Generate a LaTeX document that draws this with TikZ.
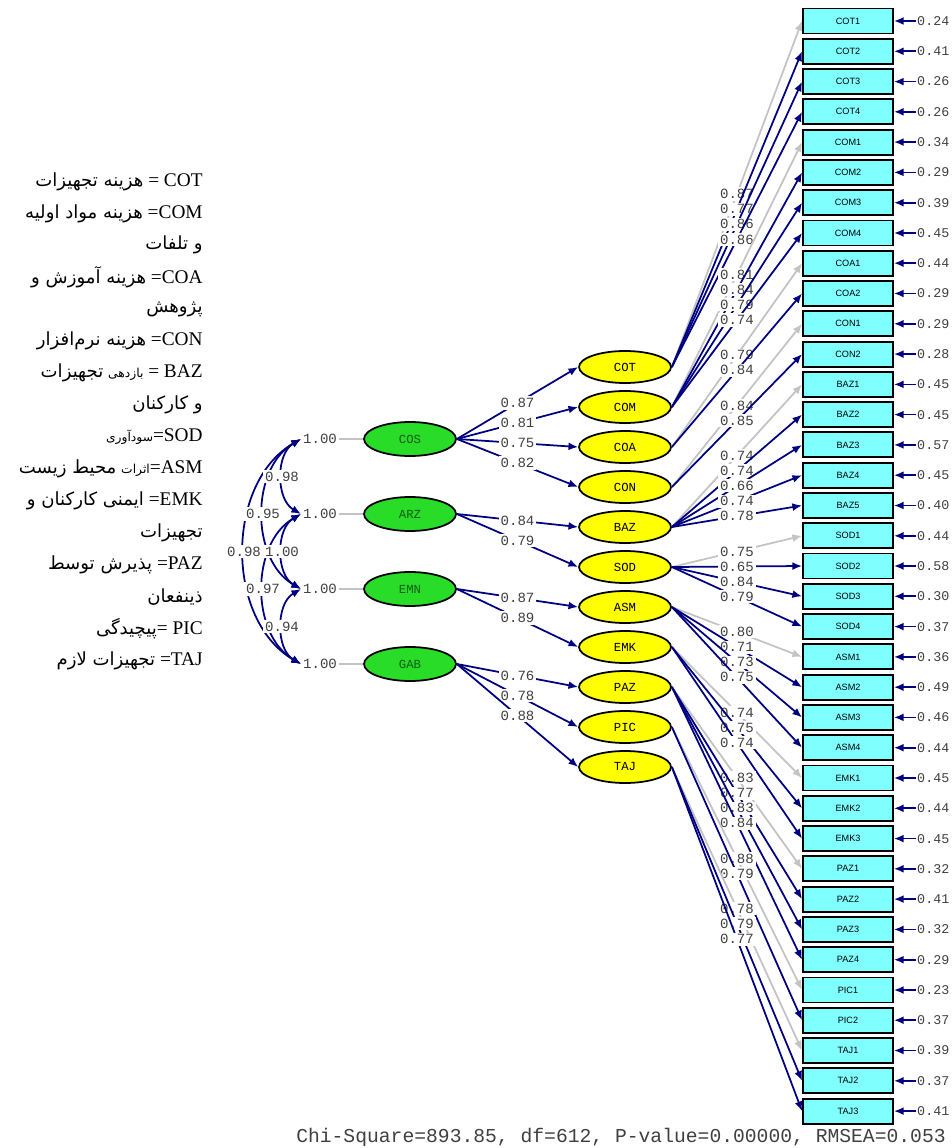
\documentclass[tikz,border=0pt]{standalone}
\usepackage{fontspec}
\setmainfont{Liberation Serif}
\newfontfamily\monofont{Liberation Mono}
\newfontfamily\boxfont{Liberation Sans}
\newfontfamily\persianfont[Script=Arabic]{DejaVu Sans}
\TeXXeTstate=1
\usetikzlibrary{shapes.geometric,arrows.meta}
\definecolor{lisnavy}{RGB}{0,0,128}
\definecolor{lisgray}{RGB}{195,195,195}
\definecolor{boxcyan}{RGB}{128,255,255}
\definecolor{latgreen}{RGB}{40,220,40}
\definecolor{latyellow}{RGB}{255,255,0}
\definecolor{gtext}{RGB}{20,90,20}
\newcommand{\smallfa}[1]{{\persianfont\fontsize{7}{8}\selectfont #1}}
\newcommand{\fatext}[1]{{\persianfont\fontsize{10.3}{12}\selectfont #1}}
\tikzset{
  obs/.style={draw, line width=1.1pt, fill=boxcyan, minimum width=1.8cm, minimum height=0.5cm, inner sep=0pt, font=\boxfont\fontsize{5.2}{6}\selectfont},
  fac/.style={ellipse, draw, line width=1pt, fill=latyellow, minimum width=1.84cm, minimum height=0.64cm, inner sep=0pt, font=\monofont\fontsize{7}{8}\selectfont},
  gfac/.style={fac, fill=latgreen, minimum height=0.68cm, text=gtext},
  val/.style={font=\monofont\fontsize{8}{9}\selectfont, inner sep=1pt, text=black!75},
  errval/.style={val, anchor=west, inner sep=0.5pt, font=\monofont\fontsize{7.6}{9}\selectfont},
  lbl/.style={val, fill=white},
  load/.style={lisnavy, line width=1pt, -{Latex[length=5.5pt,width=4.5pt]}},
  fixload/.style={load, lisgray},
  corr/.style={lisnavy, line width=1pt, {Latex[length=5.5pt,width=4.5pt]}-{Latex[length=5.5pt,width=4.5pt]}},
  varline/.style={lisgray, line width=1pt},
  legend/.style={anchor=east, inner sep=0pt, font=\fontsize{11}{13}\selectfont}
}
\begin{document}
\begin{tikzpicture}[x=0.02cm,y=-0.02cm]
  \useasboundingbox (0,0) rectangle (952,1148);

  \node[legend] (lCOT) at (203,182) {\beginR\beginL COT\endL{} = \fatext{هزینه تجهیزات}\endR};
  \node[legend] (lCOM) at (203,214) {\beginR\beginL COM\endL= \fatext{هزینه مواد اولیه}\endR};
  \node[legend] (lCOMb) at (203,245) {\beginR\fatext{و تلفات}\endR};
  \node[legend] (lCOA) at (203,277) {\beginR\beginL COA\endL= \fatext{هزینه آموزش و}\endR};
  \node[legend] (lCOAb) at (203,309) {\beginR\fatext{پژوهش}\endR};
  \node[legend] (lCON) at (203,341) {\beginR\beginL CON\endL= \fatext{هزینه نرم‌افزار}\endR};
  \node[legend] (lBAZ) at (203,373) {\beginR\beginL BAZ\endL{} = \smallfa{بازدهی} \fatext{تجهیزات}\endR};
  \node[legend] (lBAZb) at (203,405) {\beginR\fatext{و کارکنان}\endR};
  \node[legend] (lSOD) at (203,437) {\beginR\beginL SOD\endL=\smallfa{سودآوری}\endR};
  \node[legend] (lASM) at (203,469) {\beginR\beginL ASM\endL=\smallfa{اثرات} \fatext{محیط زیست}\endR};
  \node[legend] (lEMK) at (203,501) {\beginR\beginL EMK\endL= \fatext{ایمنی کارکنان و}\endR};
  \node[legend] (lEMKb) at (203,533) {\beginR\fatext{تجهیزات}\endR};
  \node[legend] (lPAZ) at (203,565) {\beginR\beginL PAZ\endL= \fatext{پذیرش توسط}\endR};
  \node[legend] (lPAZb) at (203,597) {\beginR\fatext{ذینفعان}\endR};
  \node[legend] (lPIC) at (203,629) {\beginR\beginL PIC\endL{} =\fatext{پیچیدگی}\endR};
  \node[legend] (lTAJ) at (203,661) {\beginR\beginL TAJ\endL= \fatext{تجهیزات لازم}\endR};

  \node[obs] (COT1) at (848,21.0) {COT1};
  \node[obs] (COT2) at (848,51.3) {COT2};
  \node[obs] (COT3) at (848,81.6) {COT3};
  \node[obs] (COT4) at (848,111.8) {COT4};
  \node[obs] (COM1) at (848,142.1) {COM1};
  \node[obs] (COM2) at (848,172.4) {COM2};
  \node[obs] (COM3) at (848,202.7) {COM3};
  \node[obs] (COM4) at (848,233.0) {COM4};
  \node[obs] (COA1) at (848,263.2) {COA1};
  \node[obs] (COA2) at (848,293.5) {COA2};
  \node[obs] (CON1) at (848,323.8) {CON1};
  \node[obs] (CON2) at (848,354.1) {CON2};
  \node[obs] (BAZ1) at (848,384.4) {BAZ1};
  \node[obs] (BAZ2) at (848,414.6) {BAZ2};
  \node[obs] (BAZ3) at (848,444.9) {BAZ3};
  \node[obs] (BAZ4) at (848,475.2) {BAZ4};
  \node[obs] (BAZ5) at (848,505.5) {BAZ5};
  \node[obs] (SOD1) at (848,535.8) {SOD1};
  \node[obs] (SOD2) at (848,566.0) {SOD2};
  \node[obs] (SOD3) at (848,596.3) {SOD3};
  \node[obs] (SOD4) at (848,626.6) {SOD4};
  \node[obs] (ASM1) at (848,656.9) {ASM1};
  \node[obs] (ASM2) at (848,687.2) {ASM2};
  \node[obs] (ASM3) at (848,717.4) {ASM3};
  \node[obs] (ASM4) at (848,747.7) {ASM4};
  \node[obs] (EMK1) at (848,778.0) {EMK1};
  \node[obs] (EMK2) at (848,808.3) {EMK2};
  \node[obs] (EMK3) at (848,838.6) {EMK3};
  \node[obs] (PAZ1) at (848,868.8) {PAZ1};
  \node[obs] (PAZ2) at (848,899.1) {PAZ2};
  \node[obs] (PAZ3) at (848,929.4) {PAZ3};
  \node[obs] (PAZ4) at (848,959.7) {PAZ4};
  \node[obs] (PIC1) at (848,990.0) {PIC1};
  \node[obs] (PIC2) at (848,1020.2) {PIC2};
  \node[obs] (TAJ1) at (848,1050.5) {TAJ1};
  \node[obs] (TAJ2) at (848,1080.8) {TAJ2};
  \node[obs] (TAJ3) at (848,1111.1) {TAJ3};

  \node[errval] (eCOT1) at (916,21.0) {0.24};
  \node[errval] (eCOT2) at (916,51.3) {0.41};
  \node[errval] (eCOT3) at (916,81.6) {0.26};
  \node[errval] (eCOT4) at (916,111.8) {0.26};
  \node[errval] (eCOM1) at (916,142.1) {0.34};
  \node[errval] (eCOM2) at (916,172.4) {0.29};
  \node[errval] (eCOM3) at (916,202.7) {0.39};
  \node[errval] (eCOM4) at (916,233.0) {0.45};
  \node[errval] (eCOA1) at (916,263.2) {0.44};
  \node[errval] (eCOA2) at (916,293.5) {0.29};
  \node[errval] (eCON1) at (916,323.8) {0.29};
  \node[errval] (eCON2) at (916,354.1) {0.28};
  \node[errval] (eBAZ1) at (916,384.4) {0.45};
  \node[errval] (eBAZ2) at (916,414.6) {0.45};
  \node[errval] (eBAZ3) at (916,444.9) {0.57};
  \node[errval] (eBAZ4) at (916,475.2) {0.45};
  \node[errval] (eBAZ5) at (916,505.5) {0.40};
  \node[errval] (eSOD1) at (916,535.8) {0.44};
  \node[errval] (eSOD2) at (916,566.0) {0.58};
  \node[errval] (eSOD3) at (916,596.3) {0.30};
  \node[errval] (eSOD4) at (916,626.6) {0.37};
  \node[errval] (eASM1) at (916,656.9) {0.36};
  \node[errval] (eASM2) at (916,687.2) {0.49};
  \node[errval] (eASM3) at (916,717.4) {0.46};
  \node[errval] (eASM4) at (916,747.7) {0.44};
  \node[errval] (eEMK1) at (916,778.0) {0.45};
  \node[errval] (eEMK2) at (916,808.3) {0.44};
  \node[errval] (eEMK3) at (916,838.6) {0.45};
  \node[errval] (ePAZ1) at (916,868.8) {0.32};
  \node[errval] (ePAZ2) at (916,899.1) {0.41};
  \node[errval] (ePAZ3) at (916,929.4) {0.32};
  \node[errval] (ePAZ4) at (916,959.7) {0.29};
  \node[errval] (ePIC1) at (916,990.0) {0.23};
  \node[errval] (ePIC2) at (916,1020.2) {0.37};
  \node[errval] (eTAJ1) at (916,1050.5) {0.39};
  \node[errval] (eTAJ2) at (916,1080.8) {0.37};
  \node[errval] (eTAJ3) at (916,1111.1) {0.41};

  \draw[load] (eCOT1) -- (COT1);
  \draw[load] (eCOT2) -- (COT2);
  \draw[load] (eCOT3) -- (COT3);
  \draw[load] (eCOT4) -- (COT4);
  \draw[load] (eCOM1) -- (COM1);
  \draw[load] (eCOM2) -- (COM2);
  \draw[load] (eCOM3) -- (COM3);
  \draw[load] (eCOM4) -- (COM4);
  \draw[load] (eCOA1) -- (COA1);
  \draw[load] (eCOA2) -- (COA2);
  \draw[load] (eCON1) -- (CON1);
  \draw[load] (eCON2) -- (CON2);
  \draw[load] (eBAZ1) -- (BAZ1);
  \draw[load] (eBAZ2) -- (BAZ2);
  \draw[load] (eBAZ3) -- (BAZ3);
  \draw[load] (eBAZ4) -- (BAZ4);
  \draw[load] (eBAZ5) -- (BAZ5);
  \draw[load] (eSOD1) -- (SOD1);
  \draw[load] (eSOD2) -- (SOD2);
  \draw[load] (eSOD3) -- (SOD3);
  \draw[load] (eSOD4) -- (SOD4);
  \draw[load] (eASM1) -- (ASM1);
  \draw[load] (eASM2) -- (ASM2);
  \draw[load] (eASM3) -- (ASM3);
  \draw[load] (eASM4) -- (ASM4);
  \draw[load] (eEMK1) -- (EMK1);
  \draw[load] (eEMK2) -- (EMK2);
  \draw[load] (eEMK3) -- (EMK3);
  \draw[load] (ePAZ1) -- (PAZ1);
  \draw[load] (ePAZ2) -- (PAZ2);
  \draw[load] (ePAZ3) -- (PAZ3);
  \draw[load] (ePAZ4) -- (PAZ4);
  \draw[load] (ePIC1) -- (PIC1);
  \draw[load] (ePIC2) -- (PIC2);
  \draw[load] (eTAJ1) -- (TAJ1);
  \draw[load] (eTAJ2) -- (TAJ2);
  \draw[load] (eTAJ3) -- (TAJ3);

  \node[fac] (COT) at (625,367) {COT};
  \node[fac] (COM) at (625,407) {COM};
  \node[fac] (COA) at (625,447) {COA};
  \node[fac] (CON) at (625,487) {CON};
  \node[fac] (BAZ) at (625,527) {BAZ};
  \node[fac] (SOD) at (625,567) {SOD};
  \node[fac] (ASM) at (625,607) {ASM};
  \node[fac] (EMK) at (625,647) {EMK};
  \node[fac] (PAZ) at (625,687) {PAZ};
  \node[fac] (PIC) at (625,727) {PIC};
  \node[fac] (TAJ) at (625,767) {TAJ};

  \node[gfac] (COS) at (410,439) {COS};
  \node[gfac] (ARZ) at (410,514) {ARZ};
  \node[gfac] (EMN) at (410,589) {EMN};
  \node[gfac] (GAB) at (410,664) {GAB};

  \draw[fixload] (COT.east) -- node[lbl]{0.87} (COT1.west);
  \draw[load] (COT.east) -- node[lbl]{0.77} (COT2.west);
  \draw[load] (COT.east) -- node[lbl]{0.86} (COT3.west);
  \draw[load] (COT.east) -- node[lbl]{0.86} (COT4.west);
  \draw[fixload] (COM.east) -- node[lbl]{0.81} (COM1.west);
  \draw[load] (COM.east) -- node[lbl]{0.84} (COM2.west);
  \draw[load] (COM.east) -- node[lbl]{0.79} (COM3.west);
  \draw[load] (COM.east) -- node[lbl]{0.74} (COM4.west);
  \draw[fixload] (COA.east) -- node[lbl]{0.79} (COA1.west);
  \draw[load] (COA.east) -- node[lbl]{0.84} (COA2.west);
  \draw[fixload] (CON.east) -- node[lbl]{0.84} (CON1.west);
  \draw[load] (CON.east) -- node[lbl]{0.85} (CON2.west);
  \draw[fixload] (BAZ.east) -- node[lbl]{0.74} (BAZ1.west);
  \draw[load] (BAZ.east) -- node[lbl]{0.74} (BAZ2.west);
  \draw[load] (BAZ.east) -- node[lbl]{0.66} (BAZ3.west);
  \draw[load] (BAZ.east) -- node[lbl]{0.74} (BAZ4.west);
  \draw[load] (BAZ.east) -- node[lbl]{0.78} (BAZ5.west);
  \draw[fixload] (SOD.east) -- node[lbl]{0.75} (SOD1.west);
  \draw[load] (SOD.east) -- node[lbl]{0.65} (SOD2.west);
  \draw[load] (SOD.east) -- node[lbl]{0.84} (SOD3.west);
  \draw[load] (SOD.east) -- node[lbl]{0.79} (SOD4.west);
  \draw[fixload] (ASM.east) -- node[lbl]{0.80} (ASM1.west);
  \draw[load] (ASM.east) -- node[lbl]{0.71} (ASM2.west);
  \draw[load] (ASM.east) -- node[lbl]{0.73} (ASM3.west);
  \draw[load] (ASM.east) -- node[lbl]{0.75} (ASM4.west);
  \draw[fixload] (EMK.east) -- node[lbl]{0.74} (EMK1.west);
  \draw[load] (EMK.east) -- node[lbl]{0.75} (EMK2.west);
  \draw[load] (EMK.east) -- node[lbl]{0.74} (EMK3.west);
  \draw[fixload] (PAZ.east) -- node[lbl]{0.83} (PAZ1.west);
  \draw[load] (PAZ.east) -- node[lbl]{0.77} (PAZ2.west);
  \draw[load] (PAZ.east) -- node[lbl]{0.83} (PAZ3.west);
  \draw[load] (PAZ.east) -- node[lbl]{0.84} (PAZ4.west);
  \draw[fixload] (PIC.east) -- node[lbl]{0.88} (PIC1.west);
  \draw[load] (PIC.east) -- node[lbl]{0.79} (PIC2.west);
  \draw[fixload] (TAJ.east) -- node[lbl]{0.78} (TAJ1.west);
  \draw[load] (TAJ.east) -- node[lbl]{0.79} (TAJ2.west);
  \draw[load] (TAJ.east) -- node[lbl]{0.77} (TAJ3.west);

  \draw[load] (COS.east) -- node[lbl]{0.87} (COT.west);
  \draw[load] (COS.east) -- node[lbl]{0.81} (COM.west);
  \draw[load] (COS.east) -- node[lbl]{0.75} (COA.west);
  \draw[load] (COS.east) -- node[lbl]{0.82} (CON.west);
  \draw[load] (ARZ.east) -- node[lbl]{0.84} (BAZ.west);
  \draw[load] (ARZ.east) -- node[lbl]{0.79} (SOD.west);
  \draw[load] (EMN.east) -- node[lbl]{0.87} (ASM.west);
  \draw[load] (EMN.east) -- node[lbl]{0.89} (EMK.west);
  \draw[load] (GAB.east) -- node[lbl]{0.76} (PAZ.west);
  \draw[load] (GAB.east) -- node[lbl]{0.78} (PIC.west);
  \draw[load] (GAB.east) -- node[lbl]{0.88} (TAJ.west);

  \node[val] (vCOS) at (320,439) {1.00};
  \node[val] (vARZ) at (320,514) {1.00};
  \node[val] (vEMN) at (320,589) {1.00};
  \node[val] (vGAB) at (320,664) {1.00};
  \draw[varline] (vCOS) -- (COS);
  \draw[varline] (vARZ) -- (ARZ);
  \draw[varline] (vEMN) -- (EMN);
  \draw[varline] (vGAB) -- (GAB);

  \draw[corr] (vCOS.west) to[bend right=60] node[lbl]{0.98} (vGAB.west);
  \draw[corr] (vCOS.west) to[bend right=60] node[lbl]{0.95} (vEMN.west);
  \draw[corr] (vARZ.west) to[bend right=60] node[lbl]{0.97} (vGAB.west);
  \draw[corr] (vCOS.west) to[bend right=60] node[lbl]{0.98} (vARZ.west);
  \draw[corr] (vARZ.west) to[bend right=60] node[lbl]{1.00} (vEMN.west);
  \draw[corr] (vEMN.west) to[bend right=60] node[lbl]{0.94} (vGAB.west);

  \node[val, font=\monofont\fontsize{11.2}{12}\selectfont] (fit) at (621,1137) {Chi-Square=893.85, df=612, P-value=0.00000, RMSEA=0.053};
\end{tikzpicture}
\end{document}
